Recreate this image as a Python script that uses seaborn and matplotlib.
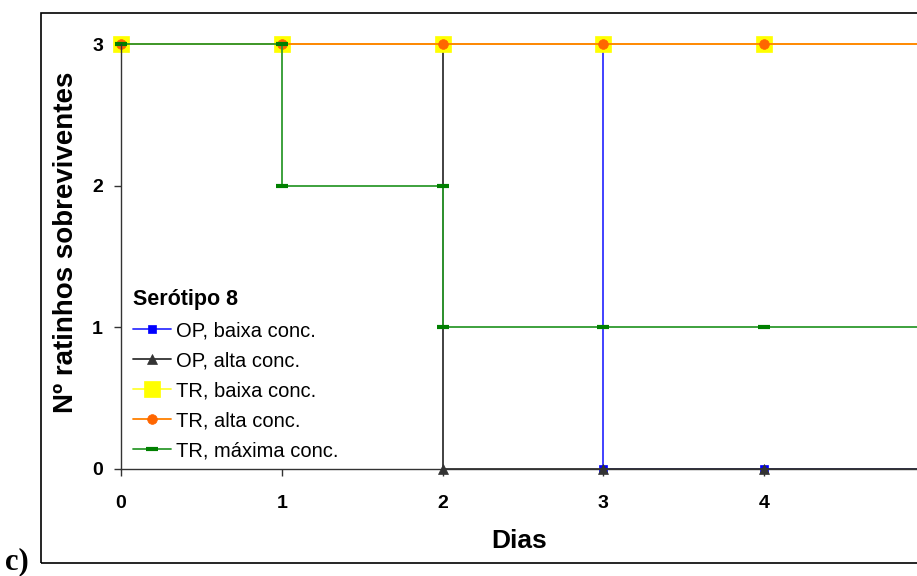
import numpy as np
import pandas as pd
import matplotlib
matplotlib.use("Agg")
import matplotlib.pyplot as plt
import seaborn as sns
from matplotlib.patches import Rectangle

# survival data (Kaplan-Meier style, duplicated x at each death)
op_baixa_x = [0, 1, 2, 3, 3, 4, 5]
op_baixa_y = [3, 3, 3, 3, 0, 0, 0]
op_alta_x = [0, 1, 2, 2, 3, 4, 5]
op_alta_y = [3, 3, 3, 0, 0, 0, 0]
tr_baixa_x = [0, 1, 2, 3, 4, 5]
tr_baixa_y = [3, 3, 3, 3, 3, 3]
tr_alta_x = [0, 1, 2, 3, 4, 5]
tr_alta_y = [3, 3, 3, 3, 3, 3]
tr_max_x = [0, 1, 1, 2, 2, 3, 4, 5]
tr_max_y = [3, 3, 2, 2, 1, 1, 1, 1]

labels = ["OP, baixa conc.", "OP, alta conc.", "TR, baixa conc.",
          "TR, alta conc.", "TR, máxima conc."]
xs = [op_baixa_x, op_alta_x, tr_baixa_x, tr_alta_x, tr_max_x]
ys = [op_baixa_y, op_alta_y, tr_baixa_y, tr_alta_y, tr_max_y]

sns.set_style("white")
plt.rcParams['font.family'] = ['Liberation Sans', 'DejaVu Sans']
plt.rcParams['text.color'] = 'black'
plt.rcParams['xtick.color'] = 'black'
plt.rcParams['ytick.color'] = 'black'

# line colour, marker, marker colour, marker size
styles = [
    ("#3333ff", "s", "#0000ff", 6),
    ("#333333", "^", "#333333", 7),
    ("#ffff33", "s", "#ffff00", 11),
    ("#ff8000", "o", "#ff6600", 7),
    ("#2e9a2e", "_", "#008000", 9),
]

fig = plt.figure(figsize=(9.17, 5.76), dpi=100)
ax = fig.add_axes([0.132, 0.1858, 0.868, 0.7378])

for x, y, lab, (lc, mk, mc, ms) in zip(xs, ys, labels, styles):
    df = pd.DataFrame({"Dias": x, "n": y})
    sns.lineplot(data=df, x="Dias", y="n", sort=False, estimator=None,
                 ax=ax, color=lc, lw=1.3, marker=mk, markersize=ms,
                 markerfacecolor=mc, markeredgecolor=mc,
                 markeredgewidth=3 if mk == "_" else 0.5,
                 label=lab, clip_on=False)

ax.set_xlim(0, 4.95)
ax.set_ylim(0, 3)
ax.set_xticks([0, 1, 2, 3, 4])
ax.set_yticks([0, 1, 2, 3])
for s in ["top", "right"]:
    ax.spines[s].set_visible(False)
for s in ["left", "bottom"]:
    ax.spines[s].set_color("#333333")
    ax.spines[s].set_linewidth(1.0)
ax.tick_params(axis="y", left=True, length=5, width=1, color="#333333",
               labelcolor="black", labelsize=14, pad=8)
ax.tick_params(axis="x", bottom=True, length=5, width=1, color="#333333",
               labelcolor="black", labelsize=14, pad=14)
for t in ax.get_xticklabels() + ax.get_yticklabels():
    t.set_fontweight("bold")

ax.set_xlabel("Dias", fontsize=19, fontweight="bold", labelpad=12,
              color="black")
ax.set_ylabel("Nº ratinhos sobreviventes", fontsize=20, fontweight="bold",
              color="black")
ax.yaxis.set_label_coords(-0.0525, 0.533)

leg = ax.legend(loc="upper left", bbox_to_anchor=(0.1254, 0.5295),
                bbox_transform=fig.transFigure, frameon=False,
                title="Serótipo 8", fontsize=14.5, handlelength=1.9,
                labelspacing=0.55, handletextpad=0.25, alignment="left")
leg.get_title().set_fontweight("bold")
leg.get_title().set_fontsize(15.5)
leg.get_title().set_color("black")
for t in leg.get_texts():
    t.set_color("black")

fig.patches.append(Rectangle((0.0447, 0.0226), 1.0, 0.955,
                             transform=fig.transFigure, fill=False,
                             edgecolor="black", lw=1.2))
fig.text(0.005, 0.0, "c)", fontsize=22, fontweight="bold",
         family="Liberation Serif", va="bottom", ha="left")

fig.savefig("out.png", dpi=100)
